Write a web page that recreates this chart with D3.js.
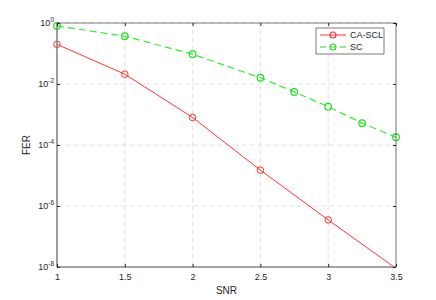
<!DOCTYPE html>
<html><head><meta charset="utf-8">
<script src="https://cdn.jsdelivr.net/npm/d3@7"></script>
<style>body{margin:0;background:#fff}svg{display:block}text{font-family:"Liberation Sans",Arial,sans-serif}</style>
</head><body>
<script>
const snrRed = [1, 1.5, 2, 2.5, 3, 3.5];
const ferRed = [0.2, 0.021, 8e-4, 1.5e-5, 3.5e-7, 9e-9];
const snrGreen = [1, 1.5, 2, 2.5, 2.75, 3, 3.25, 3.5];
const ferGreen = [0.8, 0.37, 0.095, 0.016, 0.0055, 0.0018, 5.2e-4, 1.8e-4];
const xTicks = [1, 1.5, 2, 2.5, 3, 3.5];
const yTickExps = [0, -2, -4, -6, -8];
const seriesNames = ["CA-SCL", "SC"];

const W = 436, H = 300;
const m = {l: 57, r: 40, t: 23, b: 33};
const svg = d3.select("body").append("svg").attr("width", W).attr("height", H);
const x = d3.scaleLinear().domain([1, 3.5]).range([m.l, W - m.r]);
const y = d3.scaleLog().domain([1e-8, 1]).range([H - m.b, m.t]);
const x0 = m.l, x1 = W - m.r, y0 = H - m.b, y1 = m.t;

// grid
const g = svg.append("g");
xTicks.forEach(t => g.append("line").attr("x1", x(t)).attr("x2", x(t)).attr("y1", y0).attr("y2", y1)
  .attr("stroke", "#dcdcdc").attr("stroke-width", 0.8).attr("stroke-dasharray", "5,3"));
yTickExps.forEach(e => g.append("line").attr("x1", x0).attr("x2", x1).attr("y1", y(Math.pow(10, e))).attr("y2", y(Math.pow(10, e)))
  .attr("stroke", "#dcdcdc").attr("stroke-width", 0.8).attr("stroke-dasharray", "5,3"));

// series (clipped to axes)
svg.append("clipPath").attr("id", "c").append("rect").attr("x", x0 - 6).attr("y", y1 - 6).attr("width", x1 - x0 + 12).attr("height", y0 - y1 + 6);
const line = d3.line().x(d => x(d[0])).y(d => y(d[1]));
const red = snrRed.map((s, i) => [s, ferRed[i]]);
const green = snrGreen.map((s, i) => [s, ferGreen[i]]);
const ser = svg.append("g").attr("clip-path", "url(#c)");
ser.append("path").datum(red).attr("d", line).attr("fill", "none").attr("stroke", "#ff3333").attr("stroke-width", 1);
ser.append("path").datum(green).attr("d", line).attr("fill", "none").attr("stroke", "#33ee33").attr("stroke-width", 1.2).attr("stroke-dasharray", "7,4");
ser.selectAll(".mr").data(red.filter(d => d[1] >= 1e-8)).enter().append("circle").attr("cx", d => x(d[0])).attr("cy", d => y(d[1])).attr("r", 3.3)
  .attr("fill", "none").attr("stroke", "#ff3333").attr("stroke-width", 1);
ser.selectAll(".mg").data(green).enter().append("circle").attr("cx", d => x(d[0])).attr("cy", d => y(d[1])).attr("r", 3.3)
  .attr("fill", "none").attr("stroke", "#22dd22").attr("stroke-width", 1.2);

// box
svg.append("rect").attr("x", x0).attr("y", y1).attr("width", x1 - x0).attr("height", y0 - y1)
  .attr("fill", "none").attr("stroke", "#262626").attr("stroke-width", 0.6);
svg.append("line").attr("x1", x0).attr("x2", x0).attr("y1", y1).attr("y2", y0).attr("stroke", "#8c8c8c").attr("stroke-width", 1.2);
svg.append("line").attr("x1", x0).attr("x2", x1).attr("y1", y0).attr("y2", y0).attr("stroke", "#8c8c8c").attr("stroke-width", 1.2);

// axes with inward ticks
const xa = svg.append("g").attr("transform", `translate(0,${y0})`)
  .call(d3.axisBottom(x).tickValues(xTicks).tickSize(-3).tickPadding(7).tickFormat(d3.format("")));
xa.select(".domain").remove();
xa.selectAll("line").attr("stroke", "#262626");
xa.selectAll("text").attr("font-size", 9).attr("fill", "#262626");
const xt = svg.append("g").attr("transform", `translate(0,${y1})`)
  .call(d3.axisTop(x).tickValues(xTicks).tickSize(-3).tickFormat(""));
xt.select(".domain").remove(); xt.selectAll("line").attr("stroke", "#262626");

const ya = svg.append("g").attr("transform", `translate(${x0},0)`)
  .call(d3.axisLeft(y).tickValues(yTickExps.map(e => Math.pow(10, e))).tickSize(-3).tickFormat(""));
ya.select(".domain").remove(); ya.selectAll("line").attr("stroke", "#262626");
const yr = svg.append("g").attr("transform", `translate(${x1},0)`)
  .call(d3.axisRight(y).tickValues(yTickExps.map(e => Math.pow(10, e))).tickSize(-3).tickFormat(""));
yr.select(".domain").remove(); yr.selectAll("line").attr("stroke", "#262626");

yTickExps.forEach(e => {
  const t = svg.append("text").attr("x", x0 - 3).attr("y", y(Math.pow(10, e)) + 3).attr("text-anchor", "end")
    .attr("font-size", 9).attr("fill", "#262626");
  t.append("tspan").text("10");
  t.append("tspan").attr("dy", -4).attr("font-size", 6.5).text(String(e));
});

svg.append("text").attr("x", (x0 + x1) / 2).attr("y", 294).attr("text-anchor", "middle")
  .attr("font-size", 10).attr("fill", "#262626").text("SNR");
svg.append("text").attr("transform", `translate(30,${(y0 + y1) / 2}) rotate(-90)`).attr("text-anchor", "middle")
  .attr("font-size", 10).attr("fill", "#262626").text("FER");

// legend
const lg = svg.append("g");
lg.append("rect").attr("x", 316).attr("y", 28).attr("width", 68).attr("height", 26)
  .attr("fill", "#fff").attr("stroke", "#262626").attr("stroke-width", 0.6);
const colors = ["#ff3333", "#22dd22"];
seriesNames.forEach((n, i) => {
  const yy = 35 + i * 12;
  lg.append("line").attr("x1", 320).attr("x2", 346).attr("y1", yy).attr("y2", yy).attr("stroke", colors[i])
    .attr("stroke-width", i ? 1.2 : 1).attr("stroke-dasharray", i ? "6,4" : null);
  lg.append("circle").attr("cx", 333).attr("cy", yy).attr("r", 3).attr("fill", "none").attr("stroke", colors[i]).attr("stroke-width", 1.1);
  lg.append("text").attr("x", 350).attr("y", yy + 3).attr("font-size", 9).attr("fill", "#262626").text(n);
});
</script>
</body></html>
